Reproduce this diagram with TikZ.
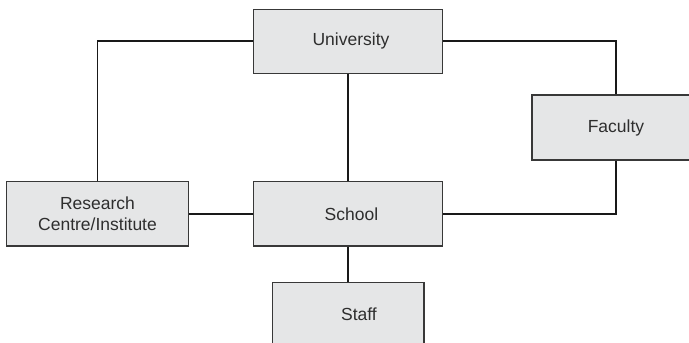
\documentclass[tikz,border=0pt]{standalone}
\usepackage{fontspec}
\setmainfont{Liberation Sans}
\begin{document}
\begin{tikzpicture}[x=1pt,y=-1pt,
  unitbox/.style={draw=black!78,line width=1.3pt,fill=boxgray,inner sep=0pt,
    text=black!82,font=\fontsize{17.5}{21.5}\selectfont,align=center},
  link/.style={draw=black!90,line width=1.8pt}]
\definecolor{boxgray}{HTML}{E5E6E7}
\useasboundingbox (0,0) rectangle (689,343);
\clip (0,0) rectangle (689,343);
% organisational units
\node[unitbox,minimum width=189.4pt,minimum height=64pt] (uni) at (348,41.3) {\hspace*{6pt}University};
\node[unitbox,minimum width=168pt,minimum height=65pt] (fac) at (616,127.5) {Faculty};
\node[unitbox,minimum width=181.6pt,minimum height=64.3pt] (res) at (97.5,213.8) {Research\\Centre/Institute};
\node[unitbox,minimum width=189.4pt,minimum height=64.3pt] (sch) at (348,213.8) {\hspace*{7pt}School};
\node[unitbox,minimum width=151.7pt,minimum height=64pt] (staff) at (348,314.7) {\hspace*{22pt}Staff};
% reporting lines
\draw[link] (uni.west) -| (res.north);
\draw[link] (uni.east) -| (fac.north);
\draw[link] (uni.south) -- (sch.north);
\draw[link] (res.east) -- (sch.west);
\draw[link] (sch.east) -| (fac.south);
\draw[link] (sch.south) -- (staff.north);
\end{tikzpicture}
\end{document}
